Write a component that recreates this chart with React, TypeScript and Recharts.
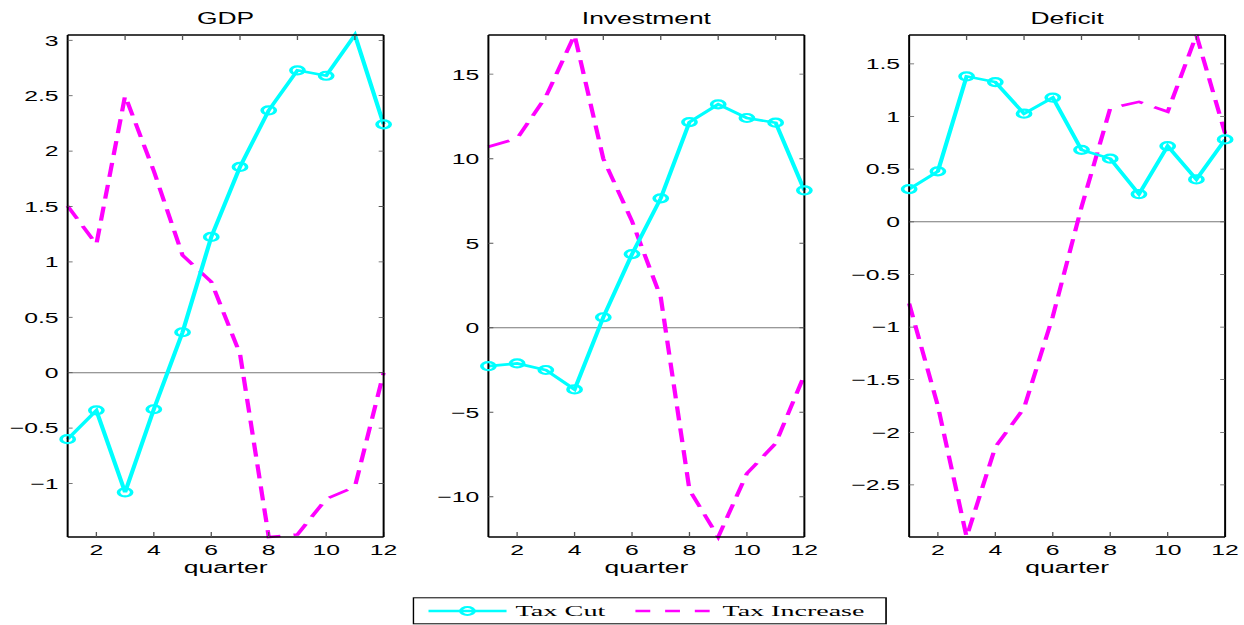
import React from 'react';
import { LineChart, Line, XAxis, YAxis, ReferenceLine } from 'recharts';

// Quarters after the fiscal shock
const quarters = [1, 2, 3, 4, 5, 6, 7, 8, 9, 10, 11, 12];
const quarterTicks = [2, 4, 6, 8, 10, 12];

// GDP response
const gdpTaxCut = [-0.6, -0.34, -1.08, -0.33, 0.365, 1.225, 1.857, 2.368, 2.729, 2.68, 3.048, 2.242];
const gdpTaxIncrease = [1.505, 1.159, 2.5, 1.82, 1.06, 0.82, 0.17, -1.483, -1.46, -1.14, -1.03, 0.0];
const gdpTicks = [-1, -0.5, 0, 0.5, 1, 1.5, 2, 2.5, 3];

// Investment response
const invTaxCut = [-2.27, -2.11, -2.5, -3.65, 0.62, 4.36, 7.66, 12.17, 13.22, 12.41, 12.13, 8.13];
const invTaxIncrease = [10.71, 11.2, 13.67, 17.32, 10.0, 6.3, 1.8, -9.6, -12.38, -8.62, -6.84, -2.8];
const invTicks = [-10, -5, 0, 5, 10, 15];

// Deficit response
const defTaxCut = [0.311, 0.48, 1.382, 1.328, 1.027, 1.18, 0.684, 0.6, 0.263, 0.72, 0.403, 0.783];
const defTaxIncrease = [-0.776, -1.75, -2.995, -2.14, -1.77, -0.9, 0.14, 1.078, 1.14, 1.046, 1.775, 0.84];
const defTicks = [-2.5, -2, -1.5, -1, -0.5, 0, 0.5, 1, 1.5];

const seriesNames = ['Tax Cut', 'Tax Increase'];

const CUT_COLOR = '#00FFFF';
const INC_COLOR = '#FF00FF';

// The figure is laid out on a narrow canvas and stretched horizontally.
const STRETCH = 1.65;
const CANVAS_W = 754;
const CANVAS_H = 625;
const AXIS_W = 45;
const PLOT_W = 191.5;
const PANEL_W = AXIS_W + PLOT_W + 1 + 10;

const SANS = 'Liberation Sans, Arial, Helvetica, sans-serif';
const SERIF = 'Liberation Serif, Times New Roman, serif';

const fmt = (v: number) => (v < 0 ? '\u2212' + String(-v) : String(v));
const blank = () => '';

const tickText = { fontSize: 15, fill: '#000', fontFamily: SANS };
const tickLineStyle = { stroke: '#555', strokeWidth: 0.8 };

type PanelProps = {
  title: string;
  cut: number[];
  inc: number[];
  yTicks: number[];
  left: number;
};

function Panel({ title, cut, inc, yTicks, left }: PanelProps) {
  const rows = quarters.map((q, i) => ({ q, cut: cut[i], inc: inc[i] }));
  const all = [...cut, ...inc];
  const domain: [number, number] = [Math.min(...all), Math.max(...all)];

  // Circle markers; a point sitting on the upper axis limit gets no marker.
  const renderDot = (p: any) => {
    const key = `dot-${p.index}`;
    if (p.value >= domain[1]) return <g key={key} />;
    return (
      <circle key={key} cx={p.cx} cy={p.cy} r={4} fill="none" stroke={CUT_COLOR} strokeWidth={2.2} />
    );
  };

  return (
    <div style={{ position: 'absolute', left, top: 0 }}>
      <LineChart
        width={PANEL_W}
        height={CANVAS_H}
        data={rows}
        margin={{ top: 34, right: 10, bottom: 48, left: 0 }}
      >
        <XAxis
          dataKey="q"
          type="number"
          domain={[1, 12]}
          ticks={quarterTicks}
          interval={0}
          height={40}
          tickSize={-5}
          tickMargin={12.8}
          tick={tickText}
          tickLine={tickLineStyle}
          axisLine={{ stroke: '#000', strokeWidth: 1.6 }}
          label={{ value: 'quarter', position: 'insideBottom', offset: 3.5, fontSize: 16, fill: '#000', fontFamily: SANS }}
        />
        <XAxis
          xAxisId="top"
          orientation="top"
          type="number"
          domain={[1, 12]}
          ticks={quarterTicks}
          interval={0}
          allowDataOverflow
          height={1}
          tickSize={-5}
          tickFormatter={blank}
          tick={tickText}
          tickLine={tickLineStyle}
          axisLine={{ stroke: '#000', strokeWidth: 1.6 }}
          label={{ value: title, position: 'top', offset: 10, fontSize: 16, fill: '#000', fontFamily: SANS }}
        />
        <YAxis
          type="number"
          domain={domain}
          ticks={yTicks}
          interval={0}
          width={AXIS_W}
          tickSize={-3}
          tickMargin={8.5}
          tickFormatter={fmt}
          tick={tickText}
          tickLine={tickLineStyle}
          axisLine={{ stroke: '#000', strokeWidth: 1.2 }}
        />
        <YAxis
          yAxisId="right"
          orientation="right"
          type="number"
          domain={domain}
          ticks={yTicks}
          interval={0}
          allowDataOverflow
          width={1}
          tickSize={-3}
          tickFormatter={blank}
          tick={tickText}
          tickLine={tickLineStyle}
          axisLine={{ stroke: '#000', strokeWidth: 1.2 }}
        />
        <ReferenceLine y={0} stroke="#777" strokeWidth={1} />
        <Line
          name={seriesNames[1]}
          dataKey="inc"
          type="linear"
          stroke={INC_COLOR}
          strokeWidth={2.6}
          strokeDasharray="14 8"
          dot={false}
          isAnimationActive={false}
        />
        <Line
          name={seriesNames[0]}
          dataKey="cut"
          type="linear"
          stroke={CUT_COLOR}
          strokeWidth={2.6}
          dot={renderDot}
          isAnimationActive={false}
        />
      </LineChart>
    </div>
  );
}

function LegendBox() {
  return (
    <svg
      style={{ position: 'absolute', left: 249.7, top: 597 }}
      width={288}
      height={28}
    >
      <rect x={0.5} y={0.8} width={286.5} height={26} fill="#fff" stroke="#000" strokeWidth={1} />
      <line x1={9.7} y1={14} x2={57} y2={14} stroke={CUT_COLOR} strokeWidth={2.4} />
      <circle cx={33.3} cy={14} r={4} fill="none" stroke={CUT_COLOR} strokeWidth={2.2} />
      <text x={62.4} y={19.5} fontSize={15.5} fontFamily={SERIF} fill="#000" textLength={54.5} lengthAdjust="spacingAndGlyphs">
        {seriesNames[0]}
      </text>
      <line x1={135.1} y1={14} x2={181.8} y2={14} stroke={INC_COLOR} strokeWidth={2.4} strokeDasharray="9 9" />
      <text x={187.9} y={19.5} fontSize={15.5} fontFamily={SERIF} fill="#000" textLength={86} lengthAdjust="spacingAndGlyphs">
        {seriesNames[1]}
      </text>
    </svg>
  );
}

export default function App() {
  return (
    <div
      style={{
        position: 'absolute',
        left: 0,
        top: 0,
        width: CANVAS_W,
        height: CANVAS_H,
        background: '#fff',
        transform: `scaleX(${STRETCH})`,
        transformOrigin: '0 0',
      }}
    >
      <Panel title="GDP" cut={gdpTaxCut} inc={gdpTaxIncrease} yTicks={gdpTicks} left={40.61 - AXIS_W} />
      <Panel title="Investment" cut={invTaxCut} inc={invTaxIncrease} yTicks={invTicks} left={295.58 - AXIS_W} />
      <Panel title="Deficit" cut={defTaxCut} inc={defTaxIncrease} yTicks={defTicks} left={550.9 - AXIS_W} />
      <LegendBox />
    </div>
  );
}
